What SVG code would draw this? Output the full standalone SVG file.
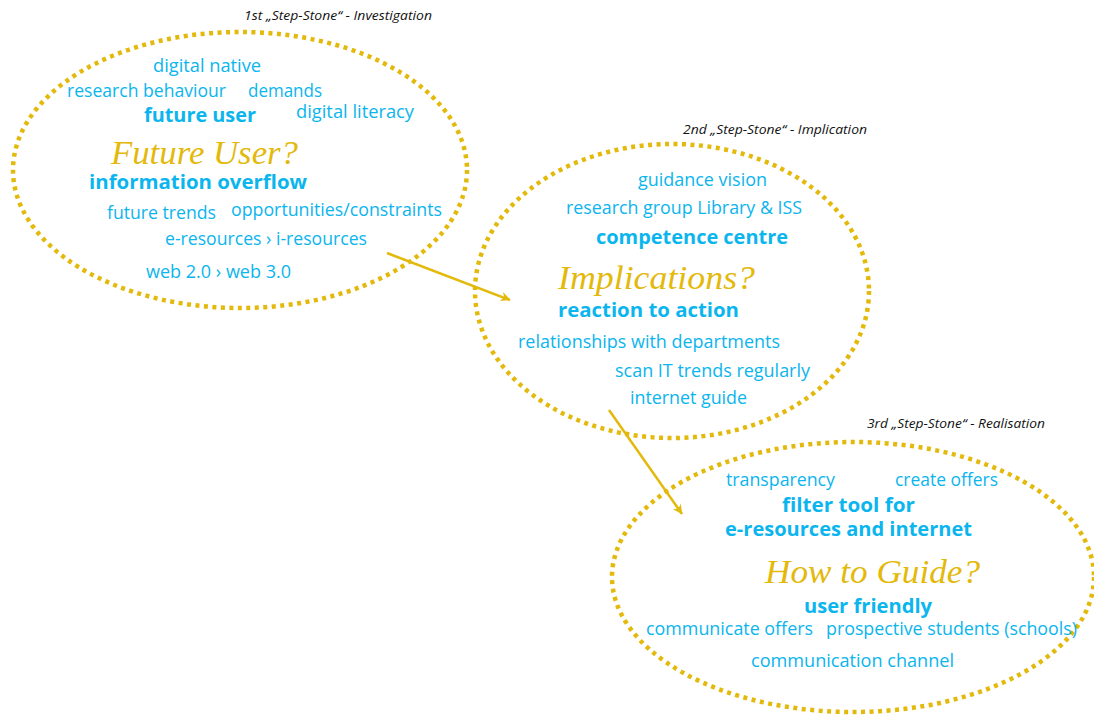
<svg xmlns="http://www.w3.org/2000/svg" width="1094" height="715" viewBox="0 0 1094 715">
<style>
.stone{fill:none;stroke:#E3B90B;stroke-width:4.5;stroke-dasharray:4 4.5}
.t{font-family:"Open Sans","Liberation Sans",sans-serif;font-size:18px;fill:#0BB5EE}
.b{font-family:"Open Sans","Liberation Sans",sans-serif;font-size:19px;font-weight:bold;fill:#0BB5EE}
.h{font-family:"Liberation Serif","DejaVu Serif",serif;font-style:italic;font-size:34px;fill:#E3B90B}
.c{font-family:"Open Sans","Liberation Sans",sans-serif;font-style:italic;font-size:12.5px;fill:#111}
.arr{stroke:#E3B90B;stroke-width:2.5;fill:none}
</style>
<defs>
<marker id="ah" viewBox="0 0 10 10" refX="9" refY="5" markerWidth="6" markerHeight="6" markerUnits="userSpaceOnUse" orient="auto" style="overflow:visible">
<path d="M0,0 L10,5 L0,10 L3,5 Z" fill="#E3B90B" transform="scale(1.6) translate(-4,-2)"/>
</marker>
</defs>
<rect width="1094" height="715" fill="#fff"/>
<g id="stone1">
<ellipse class="stone" cx="240" cy="170" rx="227" ry="138"/>
<text class="c" x="244" y="20" textLength="188" lengthAdjust="spacingAndGlyphs">1st „Step-Stone“ - Investigation</text>
<text class="t" x="153" y="72" textLength="108" lengthAdjust="spacingAndGlyphs">digital native</text>
<text class="t" x="67" y="97" textLength="159" lengthAdjust="spacingAndGlyphs">research behaviour</text>
<text class="t" x="248" y="97" textLength="74" lengthAdjust="spacingAndGlyphs">demands</text>
<text class="b" x="144" y="122" textLength="112" lengthAdjust="spacingAndGlyphs">future user</text>
<text class="t" x="296" y="118" textLength="118" lengthAdjust="spacingAndGlyphs">digital literacy</text>
<text class="h" x="111" y="164" textLength="187" lengthAdjust="spacingAndGlyphs">Future User?</text>
<text class="b" x="89" y="189" textLength="218" lengthAdjust="spacingAndGlyphs">information overflow</text>
<text class="t" x="107" y="219" textLength="109" lengthAdjust="spacingAndGlyphs">future trends</text>
<text class="t" x="231" y="216" textLength="211" lengthAdjust="spacingAndGlyphs">opportunities/constraints</text>
<text class="t" x="165" y="245" textLength="202" lengthAdjust="spacingAndGlyphs">e-resources › i-resources</text>
<text class="t" x="146" y="278" textLength="145" lengthAdjust="spacingAndGlyphs">web 2.0 › web 3.0</text>
</g>
<g id="stone2">
<ellipse class="stone" cx="672" cy="291" rx="197" ry="147"/>
<text class="c" x="683" y="134" textLength="184" lengthAdjust="spacingAndGlyphs">2nd „Step-Stone“ - Implication</text>
<text class="t" x="638" y="186" textLength="129" lengthAdjust="spacingAndGlyphs">guidance vision</text>
<text class="t" x="566" y="214" textLength="236" lengthAdjust="spacingAndGlyphs">research group Library &amp; ISS</text>
<text class="b" x="596" y="244" textLength="192" lengthAdjust="spacingAndGlyphs">competence centre</text>
<text class="h" x="558" y="289" textLength="197" lengthAdjust="spacingAndGlyphs">Implications?</text>
<text class="b" x="558" y="317" textLength="181" lengthAdjust="spacingAndGlyphs">reaction to action</text>
<text class="t" x="518" y="348" textLength="262" lengthAdjust="spacingAndGlyphs">relationships with departments</text>
<text class="t" x="615" y="377" textLength="195" lengthAdjust="spacingAndGlyphs">scan IT trends regularly</text>
<text class="t" x="630" y="404" textLength="117" lengthAdjust="spacingAndGlyphs">internet guide</text>
</g>
<g id="stone3">
<ellipse class="stone" cx="853" cy="577" rx="241" ry="135"/>
<text class="c" x="867" y="428" textLength="178" lengthAdjust="spacingAndGlyphs">3rd „Step-Stone“ - Realisation</text>
<text class="t" x="726" y="486" textLength="109" lengthAdjust="spacingAndGlyphs">transparency</text>
<text class="t" x="895" y="486" textLength="103" lengthAdjust="spacingAndGlyphs">create offers</text>
<text class="b" x="782" y="512" textLength="133" lengthAdjust="spacingAndGlyphs">filter tool for</text>
<text class="b" x="725" y="536" textLength="247" lengthAdjust="spacingAndGlyphs">e-resources and internet</text>
<text class="h" x="765" y="583" textLength="215" lengthAdjust="spacingAndGlyphs">How to Guide?</text>
<text class="b" x="804" y="613" textLength="128" lengthAdjust="spacingAndGlyphs">user friendly</text>
<text class="t" x="646" y="635" textLength="167" lengthAdjust="spacingAndGlyphs">communicate offers</text>
<text class="t" x="826" y="635" textLength="251" lengthAdjust="spacingAndGlyphs">prospective students (schools)</text>
<text class="t" x="751" y="667" textLength="203" lengthAdjust="spacingAndGlyphs">communication channel</text>
</g>
<g id="connectors">
<line class="arr" x1="387" y1="253" x2="510" y2="300" marker-end="url(#ah)"/>
<line class="arr" x1="609" y1="410" x2="682" y2="514" marker-end="url(#ah)"/>
</g>
</svg>
